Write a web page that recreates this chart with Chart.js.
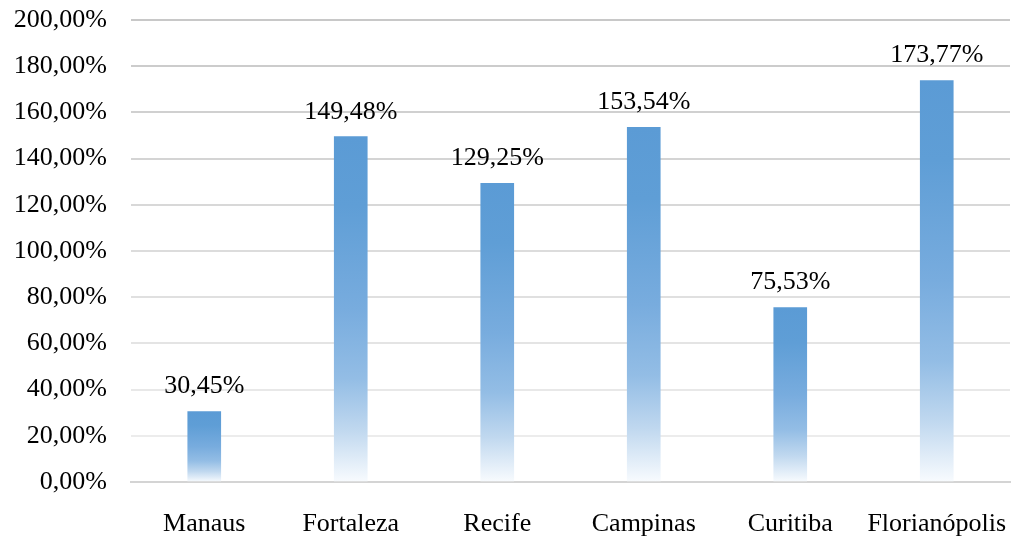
<!DOCTYPE html>
<html>
<head>
<meta charset="utf-8">
<script src="https://cdn.jsdelivr.net/npm/chart.js@4/dist/chart.umd.min.js"></script>
<style>
    html, body { margin: 0; padding: 0; background: #fff; }
    #wrap { width: 1012px; height: 541px; }
</style>
</head>
<body>
<div id="wrap"><canvas id="chartGrowth"></canvas></div>
<script>
const cities = ["Manaus", "Fortaleza", "Recife", "Campinas", "Curitiba", "Florianópolis"];
const growth = [30.45, 149.48, 129.25, 153.54, 75.53, 173.77];
const yMin = 0;
const yMax = 200;
const yStep = 20;

function fmtPct(v) {
    return v.toFixed(2).replace(".", ",") + "%";
}

// every bar fades from blue at its top to white at the baseline
function barGradient(context) {
    let chart = context.chart;
    let { ctx, chartArea, scales } = chart;
    if (!chartArea) return "#5b9bd5";
    let value = context.raw;
    let top = scales.y.getPixelForValue(value);
    let bottom = scales.y.getPixelForValue(0);
    let g = ctx.createLinearGradient(0, top, 0, bottom);
    g.addColorStop(0, "#5b9bd5");
    g.addColorStop(0.2, "#5f9ed6");
    g.addColorStop(0.5, "#78acde");
    g.addColorStop(0.7, "#93bde5");
    g.addColorStop(0.85, "#c0d8ef");
    g.addColorStop(1, "#f8fbfe");
    return g;
}

// grid lines get lighter towards the baseline
function gridColor(context) {
    let v = context.tick ? context.tick.value : 0;
    if (v === 0) return "#d4d4d4";
    let t = v / yMax;
    let c = Math.round(0xf0 - (0xf0 - 0xc8) * t);
    return `rgb(${c},${c},${c})`;
}

const valueLabels = {
    id: "valueLabels",
    afterDatasetsDraw(chart) {
        let ctx = chart.ctx;
        let meta = chart.getDatasetMeta(0);
        ctx.save();
        ctx.font = "26px 'Liberation Serif'";
        ctx.fillStyle = "#000";
        ctx.textAlign = "center";
        ctx.textBaseline = "middle";
        meta.data.forEach((bar, i) => {
            ctx.fillText(fmtPct(growth[i]), bar.x, bar.y - 25);
        });
        ctx.restore();
    }
};

new Chart(document.getElementById("chartGrowth"), {
    type: "bar",
    data: {
        labels: cities,
        datasets: [{
            data: growth,
            backgroundColor: barGradient,
            borderWidth: 0,
            barThickness: 33,
        }]
    },
    options: {
        responsive: true,
        maintainAspectRatio: false,
        animation: false,
        layout: { padding: { top: 20, right: 2, bottom: 0, left: 0 } },
        plugins: {
            legend: { display: false },
            tooltip: { enabled: false },
        },
        scales: {
            x: {
                afterFit(scale) {
                    scale.height = 59;
                    scale.paddingLeft = 0;
                    scale.paddingRight = 0;
                },
                grid: { display: false, drawTicks: false },
                border: { display: true, color: "#d4d4d4", width: 2 },
                ticks: {
                    color: "#000",
                    padding: 27,
                    maxRotation: 0,
                    autoSkip: false,
                    font: { family: "'Liberation Serif'", size: 26 },
                },
            },
            y: {
                min: yMin,
                max: yMax,
                afterFit(scale) {
                    scale.width = 131;
                    scale.paddingTop = 0;
                    scale.paddingBottom = 0;
                },
                grid: { color: gridColor, lineWidth: 2, drawTicks: false },
                border: { display: false },
                ticks: {
                    stepSize: yStep,
                    color: "#000",
                    padding: 24,
                    font: { family: "'Liberation Serif'", size: 26 },
                    callback: v => fmtPct(v),
                },
            }
        }
    },
    plugins: [valueLabels],
});
</script>
</body>
</html>
